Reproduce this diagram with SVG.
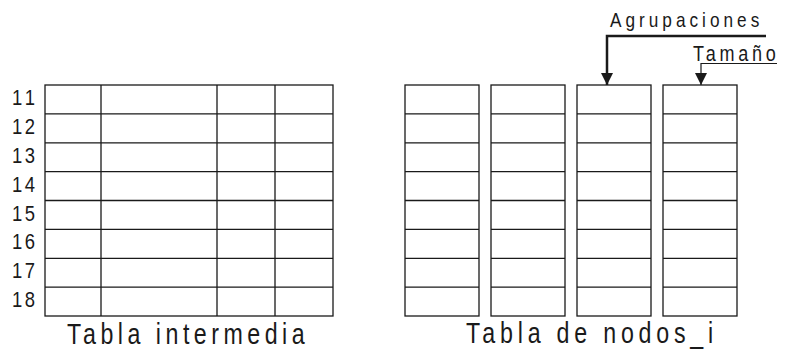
<svg xmlns="http://www.w3.org/2000/svg" width="789" height="351" viewBox="0 0 789 351">
<defs>
<style>
.t{font-family:"Liberation Sans",Arial,sans-serif;fill:#1a1a1a}
.n{font-size:22.5px}
.g{fill:#fff;stroke:#1a1a1a;stroke-width:1.3}
.l{stroke:#1a1a1a;stroke-width:1.3;fill:none}
</style>
<marker id="ah" viewBox="0 0 10 10" refX="10" refY="5" markerWidth="12" markerHeight="13" markerUnits="userSpaceOnUse" orient="auto"><path d="M0,0 L10,5 L0,10 z" fill="#1a1a1a"/></marker>
</defs>
<rect width="789" height="351" fill="#fff"/>
<g id="tabla-intermedia">
<rect class="g" x="45" y="85" width="288" height="231"/>
<path class="l" d="M101,85V316M217,85V316M275,85V316M45,113.9H333M45,142.8H333M45,171.6H333M45,200.5H333M45,229.4H333M45,258.3H333M45,287.1H333"/>
<g class="t n">
<text transform="translate(12,105) scale(0.82,1)" textLength="28" lengthAdjust="spacing">11</text>
<text transform="translate(12,134) scale(0.82,1)" textLength="28" lengthAdjust="spacing">12</text>
<text transform="translate(12,163) scale(0.82,1)" textLength="28" lengthAdjust="spacing">13</text>
<text transform="translate(12,192) scale(0.82,1)" textLength="28" lengthAdjust="spacing">14</text>
<text transform="translate(12,221) scale(0.82,1)" textLength="28" lengthAdjust="spacing">15</text>
<text transform="translate(12,249) scale(0.82,1)" textLength="28" lengthAdjust="spacing">16</text>
<text transform="translate(12,278) scale(0.82,1)" textLength="28" lengthAdjust="spacing">17</text>
<text transform="translate(12,307) scale(0.82,1)" textLength="28" lengthAdjust="spacing">18</text>
</g>
<text class="t" font-size="29" transform="translate(67,344) scale(0.8,1)" textLength="297" lengthAdjust="spacing">Tabla  intermedia</text>
</g>
<g id="tabla-nodos">
<rect class="g" x="405" y="85" width="74" height="231"/>
<rect class="g" x="491" y="85" width="74" height="231"/>
<rect class="g" x="577" y="85" width="74" height="231"/>
<rect class="g" x="663" y="85" width="74" height="231"/>
<path class="l" d="M405,113.9H479M405,142.8H479M405,171.6H479M405,200.5H479M405,229.4H479M405,258.3H479M405,287.1H479M491,113.9H565M491,142.8H565M491,171.6H565M491,200.5H565M491,229.4H565M491,258.3H565M491,287.1H565M577,113.9H651M577,142.8H651M577,171.6H651M577,200.5H651M577,229.4H651M577,258.3H651M577,287.1H651M663,113.9H737M663,142.8H737M663,171.6H737M663,200.5H737M663,229.4H737M663,258.3H737M663,287.1H737"/>
<text class="t" font-size="29" transform="translate(466,343) scale(0.8,1)" textLength="309" lengthAdjust="spacing">Tabla  de  nodos_i</text>
</g>
<g id="agrupaciones">
<text class="t" font-size="21" transform="translate(610,27) scale(0.82,1)" textLength="182" lengthAdjust="spacing">Agrupaciones</text>
</g>
<g id="tamano">
<text class="t" font-size="22" transform="translate(693,61) scale(0.82,1)" textLength="101" lengthAdjust="spacing">Tamaño</text>
</g>
<g id="connectors">
<path d="M766,36H607V85" fill="none" stroke="#1a1a1a" stroke-width="2.5" marker-end="url(#ah)"/>
<path d="M777,63.5H701V85" fill="none" stroke="#1a1a1a" stroke-width="1.2" marker-end="url(#ah)"/>
</g>
</svg>
